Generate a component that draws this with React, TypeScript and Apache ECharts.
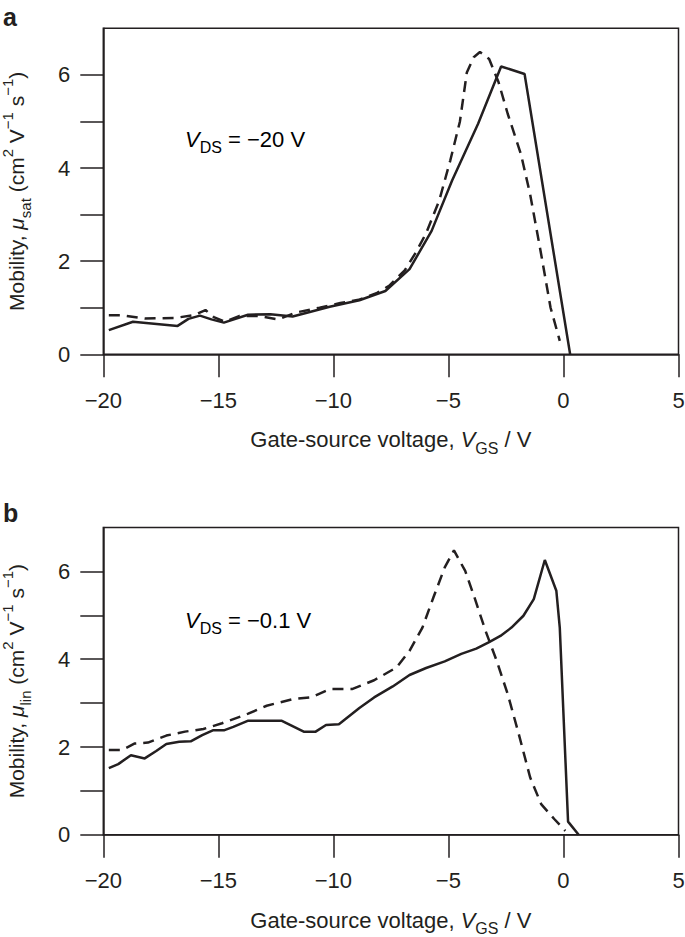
import React, { useEffect, useRef } from "react";
import * as echarts from "echarts";

// Tick values
const xTickValues = [-20, -15, -10, -5, 0, 5];
const yTickValues = [0, 1, 2, 3, 4, 5, 6];
const yLabelValues = [0, 2, 4, 6];

// Panel a: saturation mobility (V_DS = -20 V)
const satSolidV = [-19.76, -18.71, -16.77, -16.3, -15.8, -15.3, -14.76, -13.71, -12.74, -11.77, -10.16, -8.87, -7.74, -6.69, -5.73, -4.84, -3.71, -2.71, -1.69, 0.29];
const satSolidMu = [0.52, 0.7, 0.61, 0.76, 0.83, 0.75, 0.68, 0.85, 0.86, 0.81, 1.02, 1.16, 1.36, 1.83, 2.65, 3.73, 4.95, 6.18, 6.02, 0];
const satDashV = [-19.76, -19.2, -18.2, -16.9, -16.05, -15.56, -15.2, -14.7, -14.1, -13.2, -12.4, -11.6, -10.6, -9.7, -8.9, -8.1, -7.58, -6.9, -6.4, -5.97, -5.4, -4.92, -4.5, -4.2, -3.9, -3.63, -3.23, -2.82, -2.42, -1.85, -1.45, -0.97, -0.56, -0.16];
const satDashMu = [0.84, 0.84, 0.77, 0.78, 0.84, 0.95, 0.8, 0.7, 0.82, 0.82, 0.75, 0.9, 1.0, 1.1, 1.17, 1.32, 1.47, 1.8, 2.2, 2.6, 3.3, 4.16, 5.0, 6.05, 6.38, 6.49, 6.34, 5.84, 5.16, 4.3, 3.44, 2.15, 1.0, 0.29];

// Panel b: linear mobility (V_DS = -0.1 V)
const linSolidV = [-19.76, -19.35, -18.8, -18.2, -17.7, -17.26, -16.7, -16.2, -15.7, -15.24, -14.76, -14.35, -13.7, -12.26, -11.29, -10.77, -10.32, -9.76, -8.87, -8.23, -7.42, -6.69, -5.97, -5.16, -4.44, -3.79, -3.23, -2.74, -2.26, -1.74, -1.29, -0.81, -0.31, -0.16, 0.2, 0.66];
const linSolidMu = [1.52, 1.61, 1.81, 1.74, 1.91, 2.07, 2.12, 2.13, 2.27, 2.38, 2.38, 2.46, 2.6, 2.6, 2.35, 2.35, 2.5, 2.52, 2.89, 3.13, 3.38, 3.64, 3.8, 3.95, 4.12, 4.24, 4.39, 4.53, 4.72, 4.99, 5.37, 6.26, 5.56, 4.72, 0.3, 0];
const linDashV = [-19.76, -19.2, -18.63, -18.06, -17.26, -16.45, -15.65, -14.84, -13.7, -12.9, -11.77, -10.97, -10.16, -9.19, -8.23, -7.26, -6.69, -6.13, -5.65, -5.16, -4.76, -4.27, -3.87, -3.39, -2.9, -2.42, -1.94, -1.45, -0.97, -0.4, 0.08];
const linDashMu = [1.93, 1.93, 2.08, 2.1, 2.26, 2.35, 2.41, 2.54, 2.76, 2.94, 3.09, 3.13, 3.32, 3.32, 3.52, 3.81, 4.19, 4.72, 5.41, 6.09, 6.48, 6.01, 5.41, 4.65, 3.96, 3.2, 2.29, 1.31, 0.7, 0.36, 0.09];

const FONT = "'Liberation Sans', Arial, Helvetica, sans-serif";
const INK = "#231f20";

const pairs = (xs: number[], ys: number[]) => xs.map((x, i) => [x, ys[i]]);

const makeRich = (main: number, small: number) => ({
  n: { fontSize: main, lineHeight: 33, fontFamily: FONT, color: INK },
  i: { fontSize: main, lineHeight: 33, fontFamily: FONT, color: INK, fontStyle: "italic" },
  sub: { fontSize: small, lineHeight: 17, fontFamily: FONT, color: INK, verticalAlign: "bottom" },
  sup: { fontSize: small, lineHeight: 21, fontFamily: FONT, color: INK, verticalAlign: "top" },
});
const rich = makeRich(22, 16);
const richY = makeRich(21, 15);

const minus = (v: number) => String(v).replace("-", "\u2212");

function xAxisCfg(gridIndex: number) {
  return {
    type: "value",
    gridIndex,
    min: xTickValues[0],
    max: xTickValues[xTickValues.length - 1],
    interval: 5,
    name: "{n|Gate-source voltage, }{i|V}{sub|GS}{n| / V}",
    nameLocation: "middle",
    nameGap: 69,
    nameTextStyle: { rich },
    axisLine: { show: true, onZero: false, lineStyle: { color: INK, width: 1.5 } },
    axisTick: { show: true, inside: false, length: 23, lineStyle: { color: INK, width: 1.5 } },
    axisLabel: {
      show: true,
      margin: 35,
      fontSize: 22,
      fontFamily: FONT,
      color: INK,
      formatter: (v: number) => minus(v),
    },
    splitLine: { show: false },
  };
}

function yAxisCfg(gridIndex: number, subText: string) {
  return {
    type: "value",
    gridIndex,
    min: 0,
    max: 7,
    interval: 1,
    name: `{n|Mobility, }{i|\u03bc}{sub|${subText}}{n| (cm}{sup|2}{n| V}{sup|\u22121}{n| s}{sup|\u22121}{n|)}`,
    nameLocation: "middle",
    nameGap: 70,
    nameTextStyle: { rich: richY },
    axisLine: { show: true, onZero: false, lineStyle: { color: INK, width: 1.5 } },
    axisTick: { show: true, inside: false, length: 23, lineStyle: { color: INK, width: 1.5 }, customValues: yTickValues },
    axisLabel: {
      show: true,
      margin: 33,
      fontSize: 22,
      fontFamily: FONT,
      color: INK,
      formatter: (v: number) => (yLabelValues.indexOf(v) >= 0 ? String(v) : ""),
    },
    splitLine: { show: false },
  };
}

function lineSeries(idx: number, data: number[][], dashed: boolean) {
  return {
    type: "line",
    xAxisIndex: idx,
    yAxisIndex: idx,
    data,
    showSymbol: false,
    symbol: "none",
    smooth: false,
    lineStyle: { color: INK, width: 2.5, type: dashed ? [11, 7] : "solid" },
    z: 3,
  };
}

export default function App() {
  const ref = useRef<HTMLDivElement>(null);
  useEffect(() => {
    if (!ref.current) return;
    const chart = echarts.init(ref.current, null, { renderer: "svg" });
    const gridBase = {
      left: 103.3,
      width: 575.2,
      show: true,
      borderColor: INK,
      borderWidth: 1.5,
      backgroundColor: "transparent",
      containLabel: false,
      outerBoundsMode: "none",
    };
    chart.setOption({
      animation: false,
      backgroundColor: "#ffffff",
      grid: [
        { ...gridBase, top: 28.3, height: 326 },
        { ...gridBase, top: 527.5, height: 307.3 },
      ],
      xAxis: [xAxisCfg(0), xAxisCfg(1)],
      yAxis: [yAxisCfg(0, "sat"), yAxisCfg(1, "lin")],
      series: [
        lineSeries(0, pairs(satSolidV, satSolidMu), false),
        lineSeries(0, pairs(satDashV, satDashMu), true),
        lineSeries(1, pairs(linSolidV, linSolidMu), false),
        lineSeries(1, pairs(linDashV, linDashMu), true),
      ],
      graphic: [
        { type: "text", left: 3, top: 4, style: { text: "a", fontSize: 25, fontWeight: "bold", fontFamily: FONT, fill: INK } },
        { type: "text", left: 3, top: 500, style: { text: "b", fontSize: 25, fontWeight: "bold", fontFamily: FONT, fill: INK } },
        {
          type: "text",
          x: 185,
          y: 139,
          style: { text: "{i|V}{sub|DS}{n| = \u221220 V}", rich, verticalAlign: "middle", align: "left" },
        },
        {
          type: "text",
          x: 185,
          y: 620,
          style: { text: "{i|V}{sub|DS}{n| = \u22120.1 V}", rich, verticalAlign: "middle", align: "left" },
        },
      ],
    });
    return () => chart.dispose();
  }, []);
  return <div ref={ref} style={{ position: "fixed", left: 0, top: 0, width: 685, height: 937, background: "#fff" }} />;
}
